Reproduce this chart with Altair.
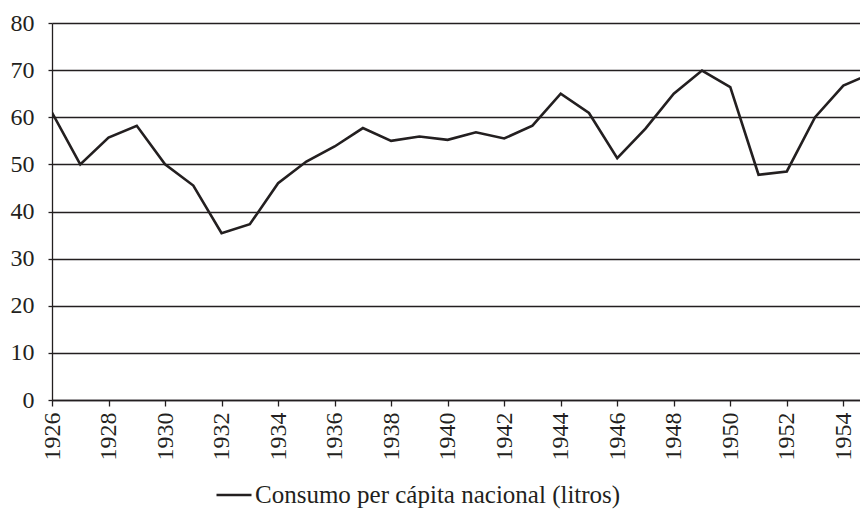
import altair as alt
import pandas as pd

years = list(range(1926, 1956))
consumo = [61.0, 50.0, 55.7, 58.2, 50.0, 45.5, 35.4, 37.3, 46.0, 50.6,
           53.8, 57.7, 55.0, 55.9, 55.2, 56.8, 55.5, 58.2, 65.0, 60.9,
           51.3, 57.6, 65.0, 69.9, 66.4, 47.8, 48.5, 60.0, 66.7, 69.3]
serie = "Consumo per cápita nacional (litros)"
x_ticks = list(range(1926, 1955, 2))
y_ticks = list(range(0, 81, 10))

df = pd.DataFrame({"year": years, "value": consumo, "serie": [serie] * len(years)})

FONT = "Liberation Serif"
INK = "#231f20"

chart = alt.Chart(df).mark_line(color=INK, strokeWidth=2.6, clip=True).encode(
    x=alt.X("year:Q",
            scale=alt.Scale(domain=[1926, 1954.59], nice=False, zero=False),
            axis=alt.Axis(values=x_ticks, format="d", title=None, grid=False,
                          labelAngle=-90, labelAlign="right", labelBaseline="middle",
                          labelPadding=6, tickSize=6, tickColor=INK, tickWidth=1.3,
                          domainColor=INK, domainWidth=1.3,
                          labelFont=FONT, labelFontSize=24, labelColor=INK)),
    y=alt.Y("value:Q",
            scale=alt.Scale(domain=[0, 80], nice=False),
            axis=alt.Axis(values=y_ticks, title=None, grid=True, gridColor=INK,
                          gridWidth=1.3, gridOpacity=1,
                          tickSize=4, tickColor=INK, tickWidth=1.3,
                          domainColor=INK, domainWidth=1.3, labelPadding=14,
                          labelFont=FONT, labelFontSize=24, labelColor=INK)),
    color=alt.Color("serie:N", scale=alt.Scale(range=[INK]),
                    legend=alt.Legend(title=None, orient="none", legendX=163, legendY=453,
                                      symbolType="stroke", symbolSize=1225,
                                      symbolStrokeWidth=2.6, labelOffset=2, labelLimit=0,
                                      labelFont=FONT, labelFontSize=25, labelColor=INK)),
).properties(
    width=808, height=377,
    autosize=alt.AutoSizeParams(type="none"),
    padding={"left": 44, "top": 15, "right": 0, "bottom": 111},
).configure_view(stroke=None).configure(background="white")

chart.save("out.html", embed_options={"renderer": "svg", "actions": False})
